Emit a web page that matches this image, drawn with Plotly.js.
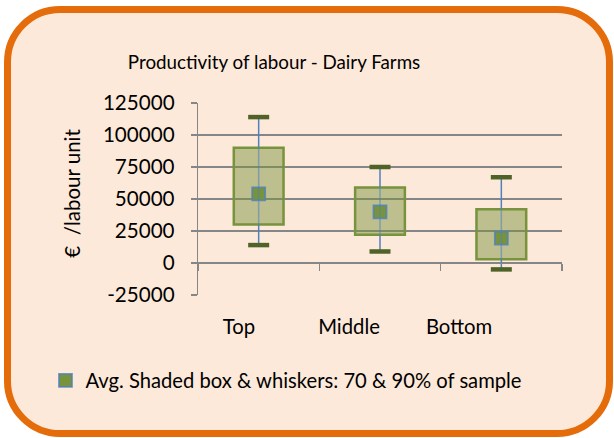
<!DOCTYPE html>
<html>
<head>
<meta charset="utf-8">
<script src="https://cdn.plot.ly/plotly-3.0.1.min.js"></script>
<style>
  html, body { margin: 0; padding: 0; background: #ffffff; }
  #frame {
    position: absolute; left: 4px; top: 6px; width: 609px; height: 431px;
    box-sizing: border-box; border: 7px solid #e46c0a; border-radius: 56px;
    background: #fde9d9;
  }
  #chart { position: absolute; left: 0; top: 0; width: 614px; height: 438px; }
</style>
</head>
<body>
<div id="frame"></div>
<div id="chart"></div>
<script>
const categories = ['Top', 'Middle', 'Bottom'];
const avgValues = [54000, 40000, 19500];
const boxLow = [30000, 22000, 3000];
const boxHigh = [90000, 59000, 42000];
const whiskerLow = [14000, 9000, -5000];
const whiskerHigh = [114000, 75000, 67000];
const yTickVals = [-25000, 0, 25000, 50000, 75000, 100000, 125000];
const yTickText = ['-25000', '0', '25000', '50000', '75000', '100000', '125000'];
const legendLabel = 'Avg. Shaded box & whiskers: 70 & 90% of sample';
const chartTitle = 'Productivity of labour - Dairy Farms';
const yTitle = '€\u00a0\u00a0/labour unit';

const FONT = 'Lato, "Open Sans", sans-serif';
const GRID = '#868686';

// whisker segments outside and inside the box
const outerX = [], outerY = [], innerX = [], innerY = [];
categories.forEach((c, i) => {
  outerX.push(c, c, null, c, c, null);
  outerY.push(whiskerLow[i], boxLow[i], null, boxHigh[i], whiskerHigh[i], null);
  innerX.push(c, c, null);
  innerY.push(boxLow[i], boxHigh[i], null);
});

const traces = [
  {
    type: 'scatter', mode: 'lines', x: outerX, y: outerY,
    line: { color: '#4f81bd', width: 1.5 }, hoverinfo: 'skip', showlegend: false
  },
  {
    type: 'bar', x: categories, y: boxHigh.map((h, i) => h - boxLow[i]), base: boxLow,
    width: 0.41,
    marker: { color: 'rgba(119,147,60,0.48)', line: { color: '#77933c', width: 2.5 } },
    hoverinfo: 'skip', showlegend: false
  },
  {
    type: 'scatter', mode: 'markers', x: categories, y: avgValues,
    name: legendLabel,
    marker: { symbol: 'square', size: 13, color: '#77933c',
              line: { color: 'rgba(79,129,189,0.8)', width: 1.8 } },
    showlegend: true
  },
  {
    type: 'scatter', mode: 'lines', x: innerX, y: innerY,
    line: { color: 'rgba(79,129,189,0.55)', width: 1.5 }, hoverinfo: 'skip', showlegend: false
  },
  {
    type: 'scatter', mode: 'markers',
    x: categories.concat(categories), y: whiskerLow.concat(whiskerHigh),
    marker: { symbol: 'line-ew', size: 15, line: { color: '#4f6228', width: 4.5 } },
    hoverinfo: 'skip', showlegend: false
  },
  {
    type: 'scatter', mode: 'markers', x: categories, y: categories.map(() => null),
    xaxis: 'x2', yaxis: 'y', hoverinfo: 'skip', showlegend: false
  }
];

const layout = {
  width: 614, height: 438,
  margin: { l: 198, r: 52, t: 103, b: 143 },
  paper_bgcolor: 'rgba(0,0,0,0)', plot_bgcolor: 'rgba(0,0,0,0)',
  font: { family: FONT, size: 20, color: '#000000' },
  title: {
    text: chartTitle, font: { family: FONT, size: 18.8, color: '#000000' },
    x: 0.209, xref: 'paper', xanchor: 'center',
    y: 1 - 62 / 438, yref: 'container', yanchor: 'middle'
  },
  showlegend: true,
  legend: {
    orientation: 'h', x: -0.419, xanchor: 'left', y: -0.447, yanchor: 'middle',
    font: { family: FONT, size: 20.2, color: '#000000' }, bgcolor: 'rgba(0,0,0,0)'
  },
  xaxis: {
    type: 'category', categoryorder: 'array', categoryarray: categories,
    range: [-0.5, 2.5], anchor: 'free', position: 1 / 6,
    showline: true, linecolor: GRID, linewidth: 1.3,
    ticks: 'outside', tickson: 'boundaries', ticklen: 7, tickcolor: GRID, tickwidth: 1.3,
    showticklabels: false, showgrid: false, zeroline: false, fixedrange: true
  },
  xaxis2: {
    type: 'category', categoryorder: 'array', categoryarray: categories,
    overlaying: 'x', anchor: 'y', side: 'bottom',
    range: [-0.373, 2.936],
    showline: false, ticks: '', showgrid: false, zeroline: false,
    tickfont: { family: FONT, size: 20.3, color: '#000000' },
    ticklabelstandoff: 18, fixedrange: true
  },
  yaxis: {
    range: [-25000, 125000], tickvals: yTickVals, ticktext: yTickText,
    showline: true, linecolor: GRID, linewidth: 1.3,
    ticks: 'outside', ticklen: 6, tickcolor: GRID, tickwidth: 1.3,
    showgrid: true, gridcolor: GRID, gridwidth: 1.3, zeroline: false,
    tickfont: { family: FONT, size: 20.6, color: '#000000' },
    ticklabelstandoff: 12, fixedrange: true
  },
  annotations: [{
    text: yTitle, xref: 'paper', yref: 'paper', x: -0.347, y: 0.531,
    xanchor: 'center', yanchor: 'middle', textangle: -90, showarrow: false,
    font: { family: FONT, size: 20.5, color: '#000000' }
  }]
};

Plotly.newPlot('chart', traces, layout, { staticPlot: true, displayModeBar: false });
</script>
</body>
</html>
